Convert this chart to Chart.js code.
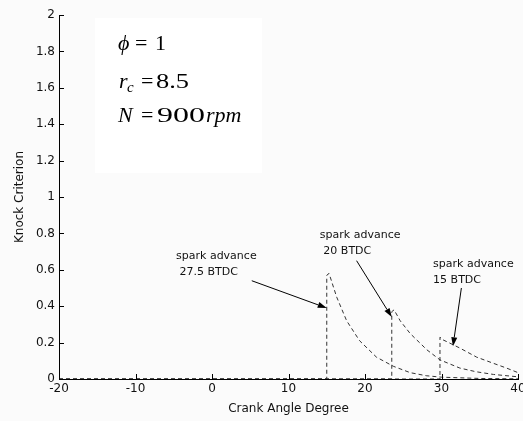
<!DOCTYPE html>
<html>
<head>
<meta charset="utf-8">
<script src="https://cdn.jsdelivr.net/npm/chart.js@4.4.0/dist/chart.umd.min.js"></script>
<style>
  html, body { margin: 0; padding: 0; background: #fbfbfb; }
  #wrap { width: 523px; height: 421px; }
</style>
</head>
<body>
<div id="wrap"><canvas id="knock" width="523" height="421"></canvas></div>
<script>
// knock criterion against crank angle for three spark advance settings
const xTicks = [-20, -10, 0, 10, 20, 30, 40];
const yTicks = [0, 0.2, 0.4, 0.6, 0.8, 1, 1.2, 1.4, 1.6, 1.8, 2];

// spark advance 27.5 BTDC
const crank275 = [-20, 15, 15, 15.3, 16.3, 17.6, 19.3, 21.5, 23.7, 25.9, 28, 30, 35, 40];
const knock275 = [0, 0, 0.57, 0.58, 0.45, 0.32, 0.21, 0.12, 0.07, 0.035, 0.018, 0.01, 0.003, 0.001];

// spark advance 20 BTDC
const crank20 = [-20, 23.5, 23.5, 23.8, 24.6, 25.9, 28.1, 29.8, 32.4, 34.5, 36.8, 40];
const knock20 = [0, 0, 0.37, 0.38, 0.32, 0.25, 0.16, 0.105, 0.06, 0.04, 0.025, 0.012];

// spark advance 15 BTDC
const crank15 = [-20, 29.8, 29.8, 30.2, 30.7, 32.4, 34.6, 36.8, 38.5, 40];
const knock15 = [0, 0, 0.23, 0.215, 0.205, 0.17, 0.12, 0.086, 0.06, 0.035];

const labelFont = 'DejaVu Sans';
const ink = '#111';

// callout labels and arrows, in data units
const callouts = [
  { lines: ['spark advance', ' 27.5 BTDC'], x: -4.7, y: 0.66, from: [5.2, 0.54], to: [15.0, 0.39] },
  { lines: ['spark advance', ' 20 BTDC'], x: 14.1, y: 0.775, from: [18.9, 0.65], to: [23.5, 0.34] },
  { lines: ['spark advance', '15 BTDC'], x: 28.9, y: 0.615, from: [32.6, 0.50], to: [31.5, 0.18] }
];

function series(xs, ys) {
  return xs.map((x, i) => ({ x: x, y: ys[i] }));
}

function drawRun(ctx, run, baseline) {
  ctx.save();
  const size = run.small ? 15 : 22;
  ctx.font = (run.it ? 'italic ' : '') + size + 'px "Liberation Serif", "Times New Roman", serif';
  ctx.translate(run.x, baseline + (run.dy || 0));
  if (run.w) {
    const m = ctx.measureText(run.t).width;
    ctx.scale(run.w / m, 1);
  }
  ctx.fillText(run.t, 0, 0);
  ctx.restore();
}

const overlay = {
  id: 'overlay',
  beforeDatasetsDraw(chart) {
    const ctx = chart.ctx;
    // parameter box
    ctx.save();
    ctx.fillStyle = '#ffffff';
    ctx.fillRect(95, 18, 167, 155);
    ctx.fillStyle = '#000';
    ctx.textBaseline = 'alphabetic';
    const rows = [
      { base: 50, runs: [{ t: '\u03D5', x: 118, it: true }, { t: '=', x: 135 }, { t: '1', x: 155 }] },
      { base: 88, runs: [{ t: 'r', x: 119, it: true }, { t: 'c', x: 127, it: true, small: true, dy: 4 },
                         { t: '=', x: 141 }, { t: '8.5', x: 156, w: 33 }] },
      { base: 122, runs: [{ t: 'N', x: 118, it: true }, { t: '=', x: 141 }, { t: '900', x: 157, w: 48 },
                          { t: 'rpm', x: 206, it: true }] }
    ];
    rows.forEach(r => r.runs.forEach(run => drawRun(ctx, run, r.base)));
    ctx.restore();
  },
  afterDraw(chart) {
    const ctx = chart.ctx;
    const xs = chart.scales.x, ys = chart.scales.y;
    const area = chart.chartArea;
    ctx.save();
    // inward tick marks
    ctx.strokeStyle = '#000';
    ctx.lineWidth = 1;
    ctx.beginPath();
    xs.ticks.forEach(t => {
      const px = Math.round(xs.getPixelForValue(t.value)) + 0.5;
      ctx.moveTo(px, area.bottom);
      ctx.lineTo(px, area.bottom - 5);
    });
    ys.ticks.forEach(t => {
      const py = Math.round(ys.getPixelForValue(t.value)) + 0.5;
      ctx.moveTo(area.left, py);
      ctx.lineTo(area.left + 5, py);
    });
    ctx.stroke();

    // callouts
    ctx.fillStyle = ink;
    ctx.font = '11px "' + labelFont + '"';
    ctx.textAlign = 'left';
    ctx.textBaseline = 'alphabetic';
    callouts.forEach(c => {
      const lx = xs.getPixelForValue(c.x);
      const ly = ys.getPixelForValue(c.y);
      c.lines.forEach((s, i) => ctx.fillText(s, lx, ly + i * 16));

      const x0 = xs.getPixelForValue(c.from[0]), y0 = ys.getPixelForValue(c.from[1]);
      const x1 = xs.getPixelForValue(c.to[0]), y1 = ys.getPixelForValue(c.to[1]);
      const ang = Math.atan2(y1 - y0, x1 - x0);
      const head = 9, half = 3;
      const bx = x1 - head * Math.cos(ang), by = y1 - head * Math.sin(ang);
      ctx.strokeStyle = '#000';
      ctx.lineWidth = 1;
      ctx.beginPath();
      ctx.moveTo(x0, y0);
      ctx.lineTo(bx, by);
      ctx.stroke();
      ctx.fillStyle = '#000';
      ctx.beginPath();
      ctx.moveTo(x1, y1);
      ctx.lineTo(bx + half * Math.sin(ang), by - half * Math.cos(ang));
      ctx.lineTo(bx - half * Math.sin(ang), by + half * Math.cos(ang));
      ctx.closePath();
      ctx.fill();
      ctx.fillStyle = ink;
    });
    ctx.restore();
  }
};

const dashed = {
  showLine: true,
  pointRadius: 0,
  borderColor: '#333',
  borderWidth: 1,
  borderDash: [4, 3],
  tension: 0,
  fill: false
};

// matlab style labels: 0, 0.2, ..., 1, 1.2, ..., 2
const plainNumber = v => String(Math.round(v * 10) / 10);

new Chart(document.getElementById('knock'), {
  type: 'scatter',
  data: {
    datasets: [
      { ...dashed, label: '27.5 BTDC', data: series(crank275, knock275) },
      { ...dashed, label: '20 BTDC', data: series(crank20, knock20) },
      { ...dashed, label: '15 BTDC', data: series(crank15, knock15) }
    ]
  },
  options: {
    responsive: false,
    animation: false,
    layout: { padding: { left: 13, top: 15, right: 5, bottom: 5 } },
    plugins: { legend: { display: false }, tooltip: { enabled: false } },
    scales: {
      x: {
        type: 'linear',
        min: xTicks[0],
        max: xTicks[xTicks.length - 1],
        afterBuildTicks(axis) { axis.ticks = xTicks.map(v => ({ value: v })); },
        afterFit(axis) { axis.height = 37; axis.paddingRight = 0; axis.paddingLeft = 0; },
        grid: { display: true, drawOnChartArea: false, drawTicks: false },
        border: { display: true, color: '#000', width: 1 },
        ticks: { padding: 3, color: ink, font: { family: labelFont, size: 12 }, maxRotation: 0,
                 callback: plainNumber },
        title: { display: true, text: 'Crank Angle Degree', color: ink, padding: 0,
                 font: { family: labelFont, size: 12 } }
      },
      y: {
        type: 'linear',
        min: yTicks[0],
        max: yTicks[yTicks.length - 1],
        afterBuildTicks(axis) { axis.ticks = yTicks.map(v => ({ value: v })); },
        afterFit(axis) { axis.width = 46; },
        grid: { display: true, drawOnChartArea: false, drawTicks: false },
        border: { display: true, color: '#000', width: 1 },
        ticks: { padding: 4, color: ink, font: { family: labelFont, size: 12 }, callback: plainNumber },
        title: { display: true, text: 'Knock Criterion', color: ink, padding: 0,
                 font: { family: labelFont, size: 12 } }
      }
    }
  },
  plugins: [overlay]
});
</script>
</body>
</html>
